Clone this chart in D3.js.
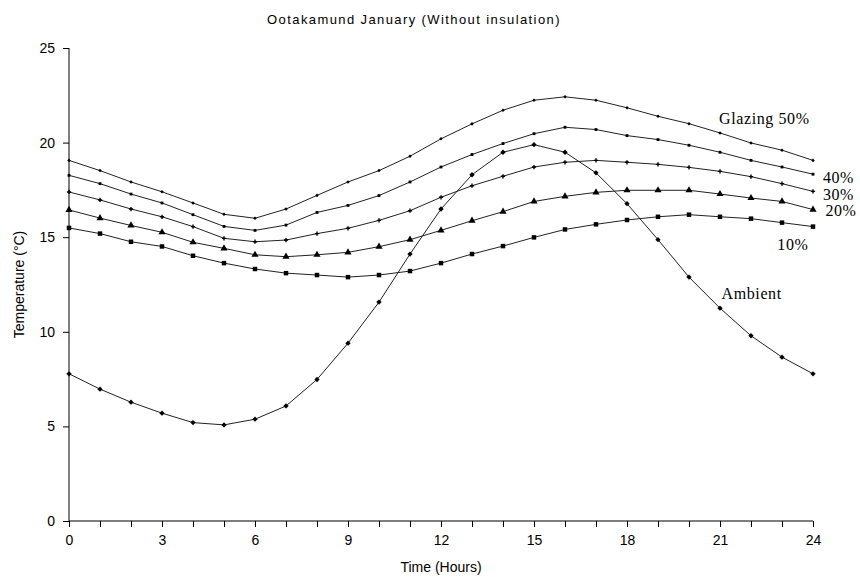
<!DOCTYPE html>
<html>
<head>
<meta charset="utf-8">
<script src="https://cdn.jsdelivr.net/npm/d3@7"></script>
<style>
  body { margin: 0; background: #fff; }
  svg text { fill: #000; }
</style>
</head>
<body>
<div class="svgcont"></div>
<script>
// hours 0..24
const hours = d3.range(0, 25);

const glazing50 = [19.06, 18.52, 17.92, 17.4, 16.81, 16.21, 16.0, 16.49, 17.21, 17.92, 18.52, 19.28, 20.2,
  20.99, 21.71, 22.24, 22.42, 22.24, 21.84, 21.39, 21.0, 20.51, 19.98, 19.6, 19.06];
const glazing40 = [18.27, 17.83, 17.28, 16.81, 16.19, 15.57, 15.36, 15.64, 16.31, 16.68, 17.2, 17.92, 18.71,
  19.37, 19.95, 20.47, 20.81, 20.69, 20.37, 20.16, 19.86, 19.49, 19.06, 18.71, 18.33];
const glazing30 = [17.39, 16.97, 16.49, 16.08, 15.56, 14.94, 14.76, 14.85, 15.19, 15.47, 15.89, 16.4, 17.11,
  17.72, 18.22, 18.71, 18.96, 19.06, 18.96, 18.85, 18.69, 18.48, 18.2, 17.83, 17.42];
const glazing20 = [16.44, 16.01, 15.62, 15.26, 14.73, 14.41, 14.07, 13.97, 14.07, 14.2, 14.5, 14.87, 15.36,
  15.87, 16.35, 16.89, 17.16, 17.37, 17.48, 17.48, 17.48, 17.28, 17.07, 16.89, 16.46];
const glazing10 = [15.49, 15.19, 14.76, 14.51, 14.02, 13.63, 13.32, 13.1, 13.0, 12.89, 13.0, 13.21, 13.63,
  14.11, 14.53, 14.99, 15.41, 15.68, 15.91, 16.08, 16.19, 16.08, 15.98, 15.77, 15.56];
const ambient = [7.78, 6.97, 6.28, 5.7, 5.2, 5.08, 5.38, 6.08, 7.48, 9.4, 11.57, 14.11, 16.49,
  18.3, 19.49, 19.89, 19.49, 18.4, 16.77, 14.87, 12.89, 11.25, 9.79, 8.66, 7.78];

const xTicks = [0, 3, 6, 9, 12, 15, 18, 21, 24];
const yTicks = [0, 5, 10, 15, 20, 25];

const w = 860;
const h = 577;

const svgCont = d3.select(".svgcont").append("svg").attr("width", w).attr("height", h);

const xScale = d3.scaleLinear().domain([0, 24]).range([69, 813]);
const yScale = d3.scaleLinear().domain([0, 25]).range([521, 48]);

const axisFont = "Arial, 'Liberation Sans', sans-serif";

// title
svgCont.append("text")
  .attr("x", 414).attr("y", 24)
  .attr("text-anchor", "middle")
  .style("font-family", axisFont).style("font-size", "13px").style("letter-spacing", "1.4px")
  .text("Ootakamund January (Without insulation)");

// axes
const yAxis = d3.axisLeft(yScale).tickValues(yTicks).tickSize(6).tickPadding(8);
svgCont.append("g").attr("transform", `translate(${xScale(0)},0)`).call(yAxis);

const xAxis = d3.axisBottom(xScale).tickValues(hours).tickSize(6).tickPadding(8)
  .tickFormat(d => xTicks.includes(d) ? d : "");
svgCont.append("g").attr("transform", `translate(0,${yScale(0)})`).call(xAxis);

svgCont.selectAll(".domain").remove();
svgCont.selectAll(".tick line").attr("stroke", "#000");
svgCont.selectAll(".tick text")
  .style("font-family", axisFont).style("font-size", "14px").attr("fill", "#000");

svgCont.append("line").attr("x1", xScale(0)).attr("x2", xScale(0))
  .attr("y1", yScale(25)).attr("y2", yScale(0)).attr("stroke", "#000");
svgCont.append("line").attr("x1", xScale(0)).attr("x2", xScale(24))
  .attr("y1", yScale(0)).attr("y2", yScale(0)).attr("stroke", "#000");

// axis titles
svgCont.append("text")
  .attr("transform", `translate(24,${(yScale(0) + yScale(25)) / 2}) rotate(-90)`)
  .attr("text-anchor", "middle")
  .style("font-family", axisFont).style("font-size", "14px")
  .text("Temperature (°C)");

svgCont.append("text")
  .attr("x", (xScale(0) + xScale(24)) / 2).attr("y", 572)
  .attr("text-anchor", "middle")
  .style("font-family", axisFont).style("font-size", "14px")
  .text("Time (Hours)");

// series
const series = [
  { values: glazing50, symbol: d3.symbolDiamond2, size: 8 },
  { values: glazing40, symbol: d3.symbolSquare, size: 8 },
  { values: glazing30, symbol: d3.symbolCross, size: 10 },
  { values: glazing20, symbol: d3.symbolTriangle, size: 22 },
  { values: glazing10, symbol: d3.symbolSquare, size: 20 },
  { values: ambient, symbol: d3.symbolDiamond2, size: 18 }
];

const line = d3.line().x((d, i) => xScale(hours[i])).y(d => yScale(d));

series.forEach(s => {
  svgCont.append("path")
    .attr("d", line(s.values))
    .attr("fill", "none")
    .attr("stroke", "#222")
    .attr("stroke-width", 1);

  svgCont.append("g").selectAll("path")
    .data(s.values)
    .enter()
    .append("path")
    .attr("transform", (d, i) => `translate(${xScale(hours[i])},${yScale(d)})`)
    .attr("d", d3.symbol().type(s.symbol).size(s.size))
    .attr("fill", "#000");
});

// series labels
const labelFont = "'Times New Roman', 'Liberation Serif', serif";
const labels = [
  { text: "Glazing 50%", hour: 20.97, temp: 20.98 },
  { text: "40%", hour: 24.32, temp: 17.86 },
  { text: "30%", hour: 24.32, temp: 16.97 },
  { text: "20%", hour: 24.4, temp: 16.12 },
  { text: "10%", hour: 22.85, temp: 14.32 },
  { text: "Ambient", hour: 21.05, temp: 11.73 }
];
svgCont.selectAll(".lbl")
  .data(labels)
  .enter()
  .append("text")
  .attr("class", "lbl")
  .attr("x", d => xScale(d.hour))
  .attr("y", d => yScale(d.temp))
  .style("font-family", labelFont).style("font-size", "16px").style("letter-spacing", "0.6px")
  .text(d => d.text);
</script>
</body>
</html>
